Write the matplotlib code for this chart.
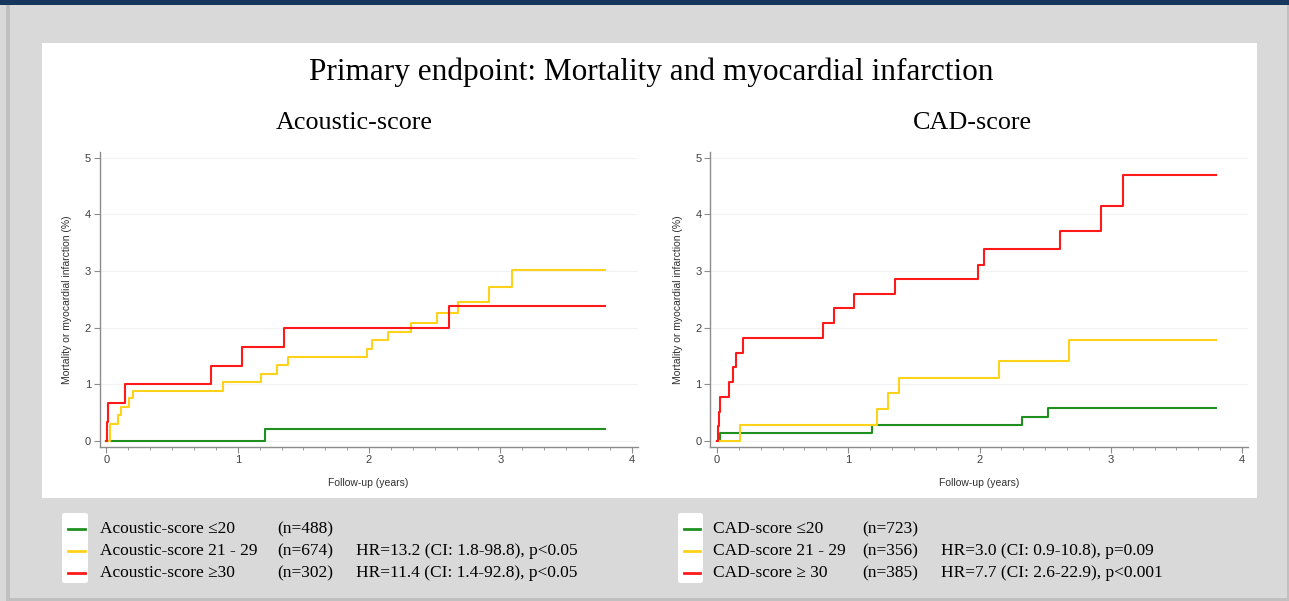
import matplotlib
matplotlib.use('Agg')
import matplotlib.pyplot as plt
from matplotlib.patches import Rectangle, FancyBboxPatch
from matplotlib.lines import Line2D
from matplotlib.ticker import MultipleLocator

# Kaplan-Meier style step data (years, cumulative %)
ac_low_t = [0, 1.21, 3.80]
ac_low_y = [0, 0.21, 0.21]
ac_mid_t = [0, 0.026, 0.088, 0.114, 0.173, 0.199, 0.887, 1.179, 1.299, 1.381,
            1.981, 2.025, 2.145, 2.317, 2.519, 2.674, 2.917, 3.09, 3.80]
ac_mid_y = [0, 0.30, 0.45, 0.60, 0.75, 0.89, 1.04, 1.19, 1.34, 1.49,
            1.63, 1.78, 1.93, 2.08, 2.26, 2.46, 2.72, 3.02, 3.02]
ac_high_t = [0, 0.005, 0.015, 0.143, 0.80, 1.036, 1.355, 2.607, 3.80]
ac_high_y = [0, 0.33, 0.67, 1.00, 1.33, 1.66, 2.00, 2.39, 2.39]

cad_low_t = [0, 0.023, 1.179, 2.32, 2.525, 3.80]
cad_low_y = [0, 0.14, 0.28, 0.43, 0.58, 0.58]
cad_mid_t = [0, 0.178, 1.217, 1.305, 1.387, 2.151, 2.68, 3.80]
cad_mid_y = [0, 0.28, 0.56, 0.84, 1.12, 1.41, 1.78, 1.78]
cad_high_t = [0, 0.005, 0.017, 0.023, 0.091, 0.12, 0.146, 0.202, 0.81, 0.892,
              1.042, 1.358, 1.987, 2.031, 2.61, 2.923, 3.096, 3.80]
cad_high_y = [0, 0.26, 0.52, 0.78, 1.04, 1.30, 1.56, 1.82, 2.08, 2.34,
              2.60, 2.86, 3.11, 3.38, 3.70, 4.15, 4.70, 4.70]

ac_labels = ['Acoustic-score \u226420', 'Acoustic-score 21 - 29', 'Acoustic-score \u226530']
ac_n = ['(n=488)', '(n=674)', '(n=302)']
ac_hr = ['', 'HR=13.2 (CI: 1.8-98.8), p<0.05', 'HR=11.4 (CI: 1.4-92.8), p<0.05']
cad_labels = ['CAD-score \u226420', 'CAD-score 21 - 29', 'CAD-score \u2265 30']
cad_n = ['(n=723)', '(n=356)', '(n=385)']
cad_hr = ['', 'HR=3.0 (CI: 0.9-10.8), p=0.09', 'HR=7.7 (CI: 2.6-22.9), p<0.001']

colors = ['#1f8f1f', '#ffd21a', '#ff1a1a']
serif = 'Liberation Serif'
sans = 'Liberation Sans'

W, H = 1289, 601
fig = plt.figure(figsize=(W / 100, H / 100), dpi=100)
fig.patch.set_facecolor('#d9d9d9')


def px_rect(x0, y0, x1, y1, color):
    # rectangle given in pixel coords (top-left origin)
    r = Rectangle((x0 / W, 1 - y1 / H), (x1 - x0) / W, (y1 - y0) / H,
                  transform=fig.transFigure, facecolor=color, edgecolor='none', zorder=-10)
    fig.patches.append(r)


# frame pieces
px_rect(0, 0, W, 4.7, '#17365d')
px_rect(6, 4.7, 9.5, 598, '#c0c0c0')
px_rect(1286.5, 4.7, W, 598, '#c0c0c0')
px_rect(6, 598, W, H, '#c0c0c0')
px_rect(41.7, 43.3, 1257, 497.7, '#ffffff')

fig.text(651 / W, 1 - 72 / H, 'Primary endpoint: Mortality and myocardial infarction',
         ha='center', va='center', fontsize=22.5, family=serif)
fig.text(354 / W, 1 - 123 / H, 'Acoustic-score', ha='center', va='center', fontsize=18.8, family=serif)
fig.text(972 / W, 1 - 123 / H, 'CAD-score', ha='center', va='center', fontsize=18.8, family=serif)

panels = [
    (99.5, [(ac_low_t, ac_low_y), (ac_mid_t, ac_mid_y), (ac_high_t, ac_high_y)]),
    (710, [(cad_low_t, cad_low_y), (cad_mid_t, cad_mid_y), (cad_high_t, cad_high_y)]),
]

for left, series in panels:
    ax = fig.add_axes([left / W, (H - 447) / H, 538 / W, (447 - 152) / H])
    ax.set_facecolor('none')
    for (t, y), c in zip(series, colors):
        ax.step(t, y, where='post', color=c, linewidth=1.5)
    ax.set_xlim(-0.053, 4.045)
    ax.set_ylim(-0.106, 5.1)
    ax.set_yticks(range(6))
    ax.set_xticks(range(5))
    ax.xaxis.set_minor_locator(MultipleLocator(1 / 6))
    for yv in range(6):
        ax.axhline(yv, color='#f2f2f2', linewidth=0.8, zorder=0)
    for s in ['top', 'right']:
        ax.spines[s].set_visible(False)
    for s in ['left', 'bottom']:
        ax.spines[s].set_color('#8c8c8c')
        ax.spines[s].set_linewidth(1.0)
    ax.tick_params(which='major', length=4, color='#8c8c8c', labelsize=8, labelcolor='#404040', pad=2)
    ax.tick_params(which='minor', length=2.5, color='#8c8c8c')
    for lab in ax.get_xticklabels() + ax.get_yticklabels():
        lab.set_family(sans)
    ax.set_xlabel('Follow-up (years)', fontsize=7.5, family=sans, color='#303030', labelpad=9)
    ax.set_ylabel('Mortality or myocardial infarction (%)', fontsize=7.5, family=sans,
                  color='#303030', labelpad=9)

# legends below the white panel
legends = [
    (62, 88, 99.6, 277, 356, ac_labels, ac_n, ac_hr),
    (678, 703, 712.7, 862.7, 940.8, cad_labels, cad_n, cad_hr),
]
rows_y = [529, 551, 573]
for bx0, bx1, tx, nx, hx, labels, ns, hrs in legends:
    box = FancyBboxPatch((bx0 / W, 1 - 583 / H), (bx1 - bx0) / W, 70 / H,
                         boxstyle='round,pad=0,rounding_size=0.003',
                         transform=fig.transFigure, facecolor='white', edgecolor='none')
    fig.patches.append(box)
    for ry, c, lab, n, hr in zip(rows_y, colors, labels, ns, hrs):
        fig.lines.append(Line2D([(bx0 + 6) / W, (bx1 - 3) / W], [1 - ry / H, 1 - ry / H],
                                transform=fig.transFigure, color=c, linewidth=2))
        fig.text(tx / W, 1 - ry / H, lab, ha='left', va='center', fontsize=12.5, family=serif)
        fig.text(nx / W, 1 - ry / H, n, ha='left', va='center', fontsize=12.5, family=serif)
        if hr:
            fig.text(hx / W, 1 - ry / H, hr, ha='left', va='center', fontsize=12.5, family=serif)

fig.savefig('out.png', dpi=100, facecolor=fig.get_facecolor())
